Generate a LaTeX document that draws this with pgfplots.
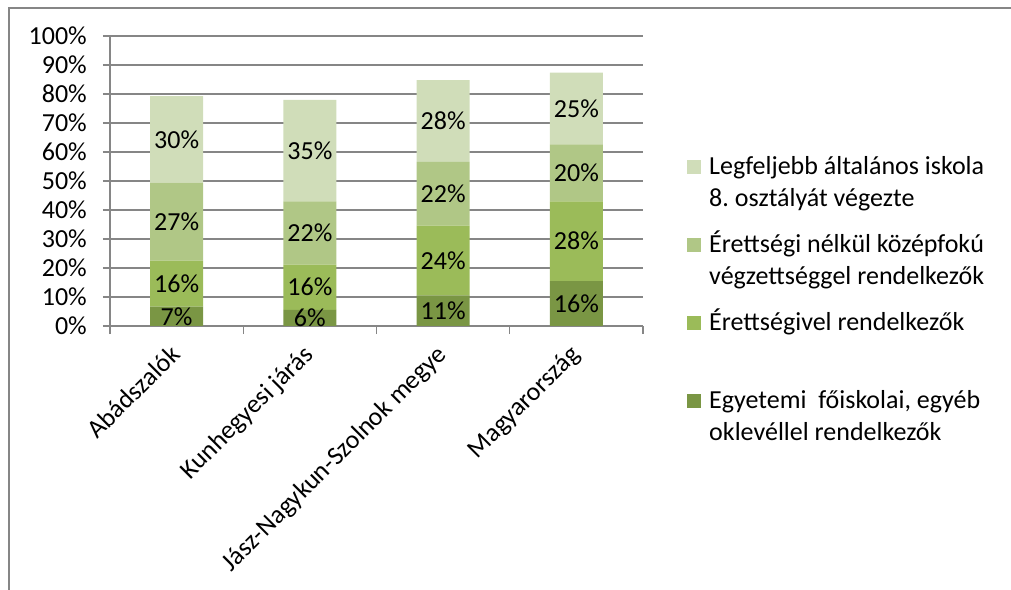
\documentclass[border=0pt]{standalone}
\usepackage{fontspec}
\setmainfont{Carlito}
\usepackage{pgfplots}
\pgfplotsset{compat=1.18}
\frenchspacing
\definecolor{c1}{RGB}{122,150,68}
\definecolor{c2}{RGB}{155,187,89}
\definecolor{c3}{RGB}{176,199,134}
\definecolor{c4}{RGB}{208,221,185}
\definecolor{gridc}{RGB}{134,134,134}
\begin{document}
\frenchspacing
\begin{tikzpicture}[font=\fontsize{26bp}{32bp}\selectfont]
\path[use as bounding box] (0,0) rectangle (1011bp,590bp);
\draw[gridc, line width=1.5bp] (9bp,0) -- (9bp,582bp) -- (1011bp,582bp);
\begin{axis}[
  at={(110bp,264bp)}, anchor=south west,
  scale only axis, width=533bp, height=290bp,
  ybar stacked, bar width=53bp,
  xmin=-0.5, xmax=3.5, ymin=0, ymax=100,
  axis lines=left, axis line style={-, gridc, line width=1.3bp},
  ytick={0,10,...,100},
  yticklabels={0\%,10\%,20\%,30\%,40\%,50\%,60\%,70\%,80\%,90\%,100\%},
  ymajorgrids, grid style={gridc, line width=1.3bp},
  tick align=outside, major tick length=7bp, minor tick length=8bp,
  ytick style={gridc, line width=1.3bp},
  xtick={0,1,2,3},
  xticklabels={Abádszalók, Kunhegyesi járás, Jász-Nagykun-Szolnok megye, Magyarország},
  major x tick style={draw=none},
  minor xtick={-0.5,0.5,1.5,2.5,3.5},
  minor x tick style={gridc, line width=1.3bp},
  xticklabel style={xshift=-8bp, yshift=-10bp, rotate=45, anchor=north east, inner sep=0pt},
  yticklabel style={inner sep=0pt, xshift=-16bp},
  legend style={draw=none, fill=none, at={(axis description cs:1.077,0.608)}, anchor=north west,
    font=\fontsize{26bp}{32bp}\selectfont, row sep=14bp, column sep=8bp,
    nodes={inner sep=0pt, anchor=base west, text depth=, text height=}},
  legend cell align=left,
  reverse legend,
  legend image code/.code={\fill[#1] (0bp,0bp) rectangle (14bp,14bp);},
]
\addplot[fill=c1, draw=none] coordinates {(0,6.7) (1,5.6) (2,10.6) (3,15.5)};
\addlegendentry{\begin{tabular}[t]{@{}l@{}}Egyetemi\ \ főiskolai, egyéb\\oklevéllel rendelkezők\end{tabular}}
\addplot[fill=c2, draw=none] coordinates {(0,15.8) (1,15.6) (2,24.0) (3,27.5)};
\addlegendentry{\begin{tabular}[t]{@{}l@{}}Érettségivel rendelkezők\\\mbox{}\end{tabular}}
\addplot[fill=c3, draw=none] coordinates {(0,26.9) (1,21.8) (2,22.0) (3,19.6)};
\addlegendentry{\begin{tabular}[t]{@{}l@{}}Érettségi nélkül középfokú\\végzettséggel rendelkezők\end{tabular}}
\addplot[fill=c4, draw=none] coordinates {(0,29.9) (1,35.0) (2,28.2) (3,24.8)};
\addlegendentry{\begin{tabular}[t]{@{}l@{}}Legfeljebb általános iskola\\8. osztályát végezte\end{tabular}}
\end{axis}
\begin{axis}[
  at={(110bp,264bp)}, anchor=south west,
  scale only axis, width=533bp, height=290bp,
  xmin=-0.5, xmax=3.5, ymin=0, ymax=100, hide axis,
]
\addplot[only marks, mark=*, mark size=0pt, mark options={draw=none, fill=none},
  nodes near coords={\pgfplotspointmeta\%}, point meta=explicit symbolic,
  every node near coord/.append style={anchor=center, inner sep=0pt, text=black, font=\fontsize{26bp}{32bp}\selectfont}]
 coordinates {
 (0,3.35) [7] (0,14.6) [16] (0,35.95) [27] (0,64.35) [30]
 (1,2.8) [6] (1,13.4) [16] (1,32.1) [22] (1,60.5) [35]
 (2,5.3) [11] (2,22.6) [24] (2,45.6) [22] (2,70.7) [28]
 (3,7.75) [16] (3,29.25) [28] (3,52.8) [20] (3,75.0) [25]
 };
\end{axis}
\end{tikzpicture}
\end{document}
